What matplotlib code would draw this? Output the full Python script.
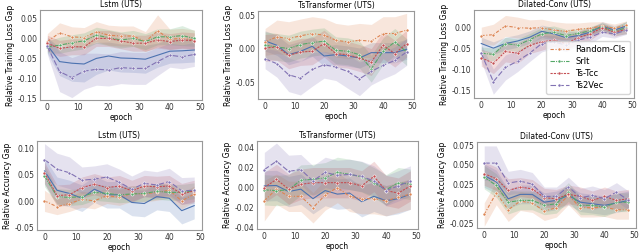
import numpy as np
import matplotlib
matplotlib.use("Agg")
import matplotlib.pyplot as plt

plt.rcParams["font.family"] = ["DejaVu Sans"]
plt.rcParams["font.size"] = 5.5

epochs = [0, 4, 8, 12, 16, 20, 24, 28, 32, 36, 40, 44, 48]
names = ["Baseline", "Random-Cls", "Srlt", "Ts-Tcc", "Ts2Vec"]
colors = ["#4C72B0", "#DD8452", "#55A868", "#C44E52", "#8172B3"]
dashes = ["-", (0, (3, 1.5, 1, 1.5)), (0, (4, 1, 1, 1)), (0, (2, 1)), (0, (5, 2))]

titles = ["Lstm (UTS)", "TsTransformer (UTS)", "Dilated-Conv (UTS)"] * 2
ylabels = ["Relative Training Loss Gap"] * 3 + ["Relative Accuracy Gap"] * 3

# mean curves, order: baseline, random-cls, srlt, ts-tcc, ts2vec
loss_lstm = [
    [-0.017, -0.058, -0.062, -0.064, -0.05, -0.044, -0.049, -0.05, -0.052, -0.042, -0.032, -0.031, -0.029],
    [-0.008, 0.014, 0.004, 0.002, 0.017, 0.008, 0.006, 0.006, -0.008, 0.019, -0.002, 0.0, -0.004],
    [-0.021, -0.017, -0.011, -0.006, 0.008, 0.002, -0.004, 0.0, -0.008, 0.004, 0.004, 0.007, 0.0],
    [-0.012, -0.025, -0.021, -0.021, 0.0, 0.0, -0.006, -0.012, -0.012, -0.004, -0.008, -0.004, -0.006],
    [-0.02, -0.083, -0.098, -0.082, -0.077, -0.079, -0.073, -0.075, -0.075, -0.058, -0.042, -0.046, -0.04],
]
loss_lstm_sd = [
    [0.02, 0.035, 0.045, 0.045, 0.04, 0.035, 0.035, 0.035, 0.035, 0.03, 0.03, 0.03, 0.03],
    [0.02, 0.025, 0.025, 0.025, 0.025, 0.025, 0.025, 0.025, 0.025, 0.04, 0.025, 0.025, 0.025],
    [0.015, 0.02, 0.02, 0.02, 0.02, 0.02, 0.02, 0.02, 0.02, 0.02, 0.02, 0.025, 0.02],
    [0.02, 0.02, 0.02, 0.02, 0.02, 0.02, 0.02, 0.02, 0.02, 0.02, 0.02, 0.02, 0.02],
    [0.02, 0.05, 0.05, 0.045, 0.04, 0.04, 0.04, 0.04, 0.04, 0.035, 0.03, 0.03, 0.03],
]

loss_tstr = [
    [0.0115, 0.005, -0.009, -0.004, 0.0035, -0.011, -0.009, -0.011, -0.014, -0.006, -0.006, -0.006, -0.001],
    [0.01, 0.0175, 0.015, 0.019, 0.0225, 0.02, 0.0125, 0.01, 0.0125, 0.011, 0.0225, 0.0225, 0.0275],
    [0.005, 0.0025, 0.0, 0.006, 0.009, 0.011, -0.0025, -0.004, -0.009, -0.03, -0.004, 0.01, -0.005],
    [0.001, 0.0025, -0.01, -0.005, -0.004, 0.0075, -0.0075, -0.009, -0.014, -0.02, 0.005, -0.0075, 0.0075],
    [-0.015, -0.0225, -0.039, -0.044, -0.031, -0.024, -0.0275, -0.034, -0.045, -0.034, -0.025, -0.0175, -0.005],
]
loss_tstr_sd = [
    [0.015, 0.015, 0.015, 0.015, 0.015, 0.015, 0.015, 0.015, 0.015, 0.015, 0.015, 0.015, 0.015],
    [0.02, 0.025, 0.025, 0.025, 0.025, 0.025, 0.025, 0.025, 0.025, 0.025, 0.025, 0.025, 0.025],
    [0.02, 0.02, 0.02, 0.02, 0.02, 0.02, 0.02, 0.02, 0.02, 0.02, 0.02, 0.02, 0.02],
    [0.02, 0.02, 0.02, 0.02, 0.02, 0.02, 0.02, 0.02, 0.02, 0.02, 0.02, 0.02, 0.02],
    [0.015, 0.02, 0.025, 0.025, 0.025, 0.02, 0.02, 0.025, 0.025, 0.02, 0.02, 0.02, 0.02],
]

loss_dconv = [
    [-0.038, -0.049, -0.038, -0.032, -0.023, -0.009, -0.015, -0.024, -0.019, -0.011, 0.004, -0.006, 0.004],
    [-0.019, -0.017, 0.004, 0.0, -0.0015, 0.0, -0.006, -0.009, -0.004, -0.0015, 0.004, -0.0015, 0.006],
    [-0.061, -0.064, -0.038, -0.042, -0.029, -0.015, -0.011, -0.019, -0.014, -0.0075, 0.0015, -0.009, 0.0],
    [-0.072, -0.085, -0.057, -0.061, -0.042, -0.034, -0.03, -0.038, -0.024, -0.015, 0.0, -0.011, -0.004],
    [-0.061, -0.129, -0.095, -0.08, -0.061, -0.038, -0.034, -0.042, -0.03, -0.023, -0.011, -0.015, -0.006],
]
loss_dconv_sd = [
    [0.015, 0.015, 0.015, 0.015, 0.015, 0.015, 0.015, 0.015, 0.01, 0.01, 0.01, 0.01, 0.01],
    [0.02, 0.025, 0.025, 0.025, 0.02, 0.02, 0.02, 0.02, 0.015, 0.015, 0.01, 0.01, 0.01],
    [0.015, 0.015, 0.015, 0.015, 0.015, 0.015, 0.015, 0.015, 0.01, 0.01, 0.01, 0.01, 0.015],
    [0.02, 0.025, 0.025, 0.025, 0.02, 0.02, 0.015, 0.015, 0.015, 0.015, 0.01, 0.01, 0.01],
    [0.02, 0.03, 0.03, 0.025, 0.02, 0.02, 0.015, 0.015, 0.015, 0.015, 0.01, 0.01, 0.01],
]

acc_lstm = [
    [0.0575, 0.021, 0.015, 0.006, 0.023, 0.0125, 0.0125, -0.002, -0.004, 0.009, 0.006, -0.0175, -0.008],
    [0.001, -0.01, -0.004, 0.004, 0.001, 0.011, 0.0075, 0.015, 0.014, 0.017, 0.021, 0.001, 0.014],
    [0.048, 0.009, 0.0075, 0.009, 0.017, 0.015, 0.0125, 0.014, 0.015, 0.019, 0.017, 0.017, 0.02],
    [0.054, 0.011, 0.0125, 0.026, 0.0325, 0.026, 0.029, 0.02, 0.029, 0.0275, 0.029, 0.014, 0.02],
    [0.079, 0.061, 0.054, 0.04, 0.042, 0.046, 0.036, 0.023, 0.034, 0.031, 0.0375, 0.02, 0.021],
]
acc_lstm_sd = [
    [0.025, 0.025, 0.025, 0.025, 0.025, 0.025, 0.025, 0.025, 0.025, 0.025, 0.025, 0.025, 0.025],
    [0.02, 0.015, 0.015, 0.015, 0.015, 0.015, 0.015, 0.015, 0.015, 0.015, 0.015, 0.015, 0.015],
    [0.02, 0.015, 0.015, 0.015, 0.015, 0.015, 0.015, 0.015, 0.015, 0.015, 0.015, 0.015, 0.015],
    [0.02, 0.02, 0.02, 0.02, 0.02, 0.02, 0.02, 0.02, 0.02, 0.02, 0.02, 0.02, 0.02],
    [0.03, 0.03, 0.03, 0.025, 0.025, 0.025, 0.025, 0.025, 0.025, 0.025, 0.025, 0.025, 0.025],
]

acc_tstr = [
    [0.0016, 0.002, -0.004, -0.0016, -0.011, -0.003, -0.0065, -0.0055, -0.014, -0.0087, -0.013, -0.011, -0.0065],
    [-0.013, -0.0016, -0.0087, -0.0087, -0.02, -0.0074, 0.0, -0.0087, -0.011, -0.011, -0.013, -0.0097, -0.0065],
    [-0.0023, -0.003, -0.0023, 0.0074, 0.008, 0.0097, 0.015, 0.013, 0.0106, 0.0048, -0.0023, 0.0048, 0.0032],
    [0.0, 0.008, -0.0016, 0.0032, 0.0048, 0.0048, 0.0048, 0.0048, 0.0016, 0.011, -0.003, -0.0055, 0.0016],
    [0.0177, 0.026, 0.016, 0.0177, 0.0065, 0.015, 0.012, 0.013, 0.011, 0.0065, -0.003, 0.0016, 0.0065],
]
acc_tstr_sd = [
    [0.015, 0.015, 0.015, 0.015, 0.015, 0.015, 0.015, 0.015, 0.015, 0.015, 0.015, 0.015, 0.015],
    [0.02, 0.015, 0.015, 0.015, 0.015, 0.015, 0.015, 0.015, 0.015, 0.015, 0.015, 0.015, 0.015],
    [0.015, 0.015, 0.015, 0.015, 0.015, 0.015, 0.015, 0.015, 0.015, 0.015, 0.015, 0.015, 0.015],
    [0.015, 0.015, 0.015, 0.015, 0.015, 0.015, 0.015, 0.015, 0.015, 0.015, 0.015, 0.015, 0.015],
    [0.017, 0.018, 0.016, 0.015, 0.015, 0.015, 0.015, 0.015, 0.015, 0.015, 0.015, 0.015, 0.015],
]

acc_dconv = [
    [0.036, 0.028, 0.0064, 0.012, 0.012, 0.002, 0.0043, 0.0107, 0.002, 0.0, -0.002, 0.0009, 0.0043],
    [-0.0137, 0.0137, -0.0077, 0.0034, 0.0009, -0.0094, -0.005, 0.0107, -0.005, -0.005, -0.0043, -0.0077, -0.0077],
    [0.034, 0.0235, 0.002, 0.0043, 0.0043, -0.002, 0.0, 0.015, -0.002, -0.002, -0.0043, 0.002, 0.002],
    [0.0385, 0.032, 0.017, 0.0214, 0.019, 0.0077, 0.0064, 0.012, 0.0094, 0.0043, 0.0094, 0.0043, 0.0064],
    [0.052, 0.052, 0.0265, 0.029, 0.025, 0.0094, 0.0094, 0.022, 0.0077, 0.0107, 0.0064, 0.015, 0.0043],
]
acc_dconv_sd = [
    [0.015, 0.015, 0.012, 0.012, 0.012, 0.012, 0.012, 0.012, 0.012, 0.012, 0.012, 0.012, 0.012],
    [0.015, 0.015, 0.015, 0.012, 0.012, 0.012, 0.012, 0.012, 0.012, 0.012, 0.012, 0.012, 0.012],
    [0.015, 0.015, 0.015, 0.012, 0.012, 0.012, 0.012, 0.012, 0.012, 0.012, 0.012, 0.012, 0.012],
    [0.015, 0.015, 0.015, 0.012, 0.012, 0.012, 0.012, 0.012, 0.012, 0.012, 0.012, 0.012, 0.012],
    [0.022, 0.022, 0.015, 0.015, 0.015, 0.012, 0.012, 0.012, 0.012, 0.012, 0.012, 0.012, 0.012],
]

panels = [
    (loss_lstm, loss_lstm_sd), (loss_tstr, loss_tstr_sd), (loss_dconv, loss_dconv_sd),
    (acc_lstm, acc_lstm_sd), (acc_tstr, acc_tstr_sd), (acc_dconv, acc_dconv_sd),
]
yticks = [
    [-0.15, -0.10, -0.05, 0.00, 0.05],
    [-0.05, 0.00, 0.05],
    [-0.15, -0.10, -0.05, 0.00],
    [-0.05, 0.00, 0.05, 0.10],
    [-0.04, -0.02, 0.00, 0.02, 0.04],
    [-0.025, 0.000, 0.025, 0.050, 0.075],
]
ylims = [(-0.154, 0.071), (-0.075, 0.056), (-0.168, 0.042),
         (-0.054, 0.114), (-0.041, 0.046), (-0.031, 0.079)]
yfmt = ["%.2f", "%.2f", "%.2f", "%.2f", "%.2f", "%.3f"]

# axes boxes in pixels: left, top, right, bottom
W, H = 640, 252
boxes = [
    (40, 10, 202, 100), (258, 11, 414, 99), (474, 10, 634, 98),
    (37, 141, 202, 230), (257, 141, 418, 229), (477, 142, 636, 228),
]

fig = plt.figure(figsize=(6.4, 2.52), dpi=100)
x = np.array(epochs)
for k, ((means, sds), box) in enumerate(zip(panels, boxes)):
    l, t, r, b = box
    ax = fig.add_axes([l / W, 1 - b / H, (r - l) / W, (b - t) / H])
    for i in range(5):
        m = np.array(means[i]); s = np.array(sds[i])
        ax.fill_between(x, m - s, m + s, color=colors[i], alpha=0.2, lw=0)
        if i == 0:
            ax.plot(x, m, color=colors[i], lw=0.8, ls="-")
        else:
            ax.plot(x, m, color=colors[i], lw=0.8, ls=dashes[i], marker="o",
                    ms=2.2, mec="white", mew=0.4, label=names[i])
    ax.set_yticks(yticks[k])
    ax.set_yticklabels([yfmt[k] % v for v in yticks[k]])
    ax.set_ylim(*ylims[k])
    ax.set_xticks([0, 10, 20, 30, 40, 50])
    ax.set_xlim(-2.4, 50.5)
    ax.set_title(titles[k], fontsize=5.5, pad=2)
    ax.set_xlabel("epoch", fontsize=5.5, labelpad=1)
    ax.set_ylabel(ylabels[k], fontsize=5.5, labelpad=2)
    ax.tick_params(length=0, pad=2, labelsize=5.5, colors="#333333")
    for sp in ax.spines.values():
        sp.set_color("#999999"); sp.set_linewidth(0.8)
    if k == 2:
        ax.legend(loc="lower right", fontsize=6, frameon=True, edgecolor="#cccccc",
                  handlelength=2.2, borderpad=0.5, labelspacing=0.35)

fig.savefig("out.png", dpi=100)
